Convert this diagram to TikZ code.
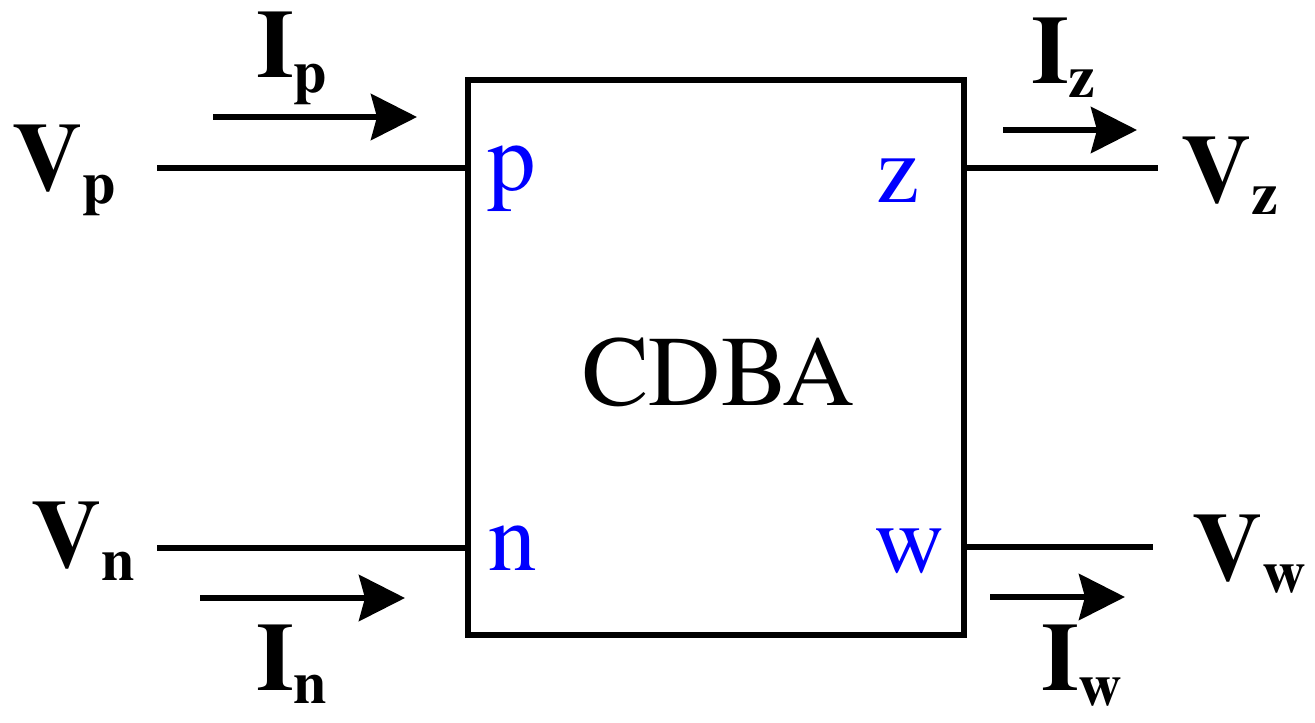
\documentclass[tikz,border=0pt]{standalone}
\usepackage{fontspec}
\setmainfont{texgyretermes}[Extension=.otf,UprightFont=*-regular,BoldFont=*-bold,ItalicFont=*-italic,BoldItalicFont=*-bolditalic]
\usetikzlibrary{arrows.meta}
\begin{document}
\begin{tikzpicture}[x=1pt,y=-1pt,
  wire/.style={line width=6pt},
  cur/.style={line width=6pt,-{Stealth[length=46pt,width=46pt,inset=6pt]}},
  lbl/.style={anchor=base west,inner sep=0pt,font=\fontsize{97}{97}\selectfont\bfseries},
  port/.style={anchor=base west,inner sep=0pt,text=blue,font=\fontsize{97}{97}\selectfont}]
\useasboundingbox (0,0) rectangle (1315,723);
\newcommand{\subsc}[2]{\raisebox{-#1pt}{\fontsize{60}{60}\selectfont #2}}
% box
\node[draw,line width=5.5pt,minimum width=496pt,minimum height=555pt,inner sep=0pt] (box) at (716,357.5) {};
\node[anchor=base west,inner sep=0pt,font=\fontsize{100}{100}\selectfont] (title) at (582,405) {CDBA};
% ports
\node[port] (pp) at (487,190) {p};
\node[port] (pn) at (488,570) {n};
\node[port] (pz) at (876,202) {z};
\node[port] (pw) at (874,572) {w};
% terminals
\coordinate (tp) at (157,168);
\coordinate (tn) at (157,548);
\coordinate (tz) at (1158,168);
\coordinate (tw) at (1153,547);
\draw[wire] (tp) -- (tp -| box.west);
\draw[wire] (tn) -- (tn -| box.west);
\draw[wire] (box.east |- tz) -- (tz);
\draw[wire] (box.east |- tw) -- (tw);
% current arrows
\coordinate (ip0) at (213,117); \coordinate (ip1) at (417,117);
\coordinate (in0) at (200,598); \coordinate (in1) at (405,598);
\coordinate (iz0) at (1003,130); \coordinate (iz1) at (1137,130);
\coordinate (iw0) at (990,597); \coordinate (iw1) at (1125,597);
\draw[cur] (ip0) -- (ip1);
\draw[cur] (in0) -- (in1);
\draw[cur] (iz0) -- (iz1);
\draw[cur] (iw0) -- (iw1);
% labels
\node[lbl] (vp) at (12,190) {V\subsc{13}{p}};
\node[lbl] (ipl) at (256,77) {I\subsc{15}{p}};
\node[lbl] (vn) at (31,567) {V\subsc{13}{n}};
\node[lbl] (inl) at (256,690) {I\subsc{13}{n}};
\node[lbl] (vz) at (1181,202) {V\subsc{12}{z}};
\node[lbl] (izl) at (1031,83) {I\subsc{14}{z}};
\node[lbl] (vw) at (1192,580) {V\subsc{12}{w}};
\node[lbl] (iwl) at (1041,690) {I\subsc{15}{w}};
\end{tikzpicture}
\end{document}
